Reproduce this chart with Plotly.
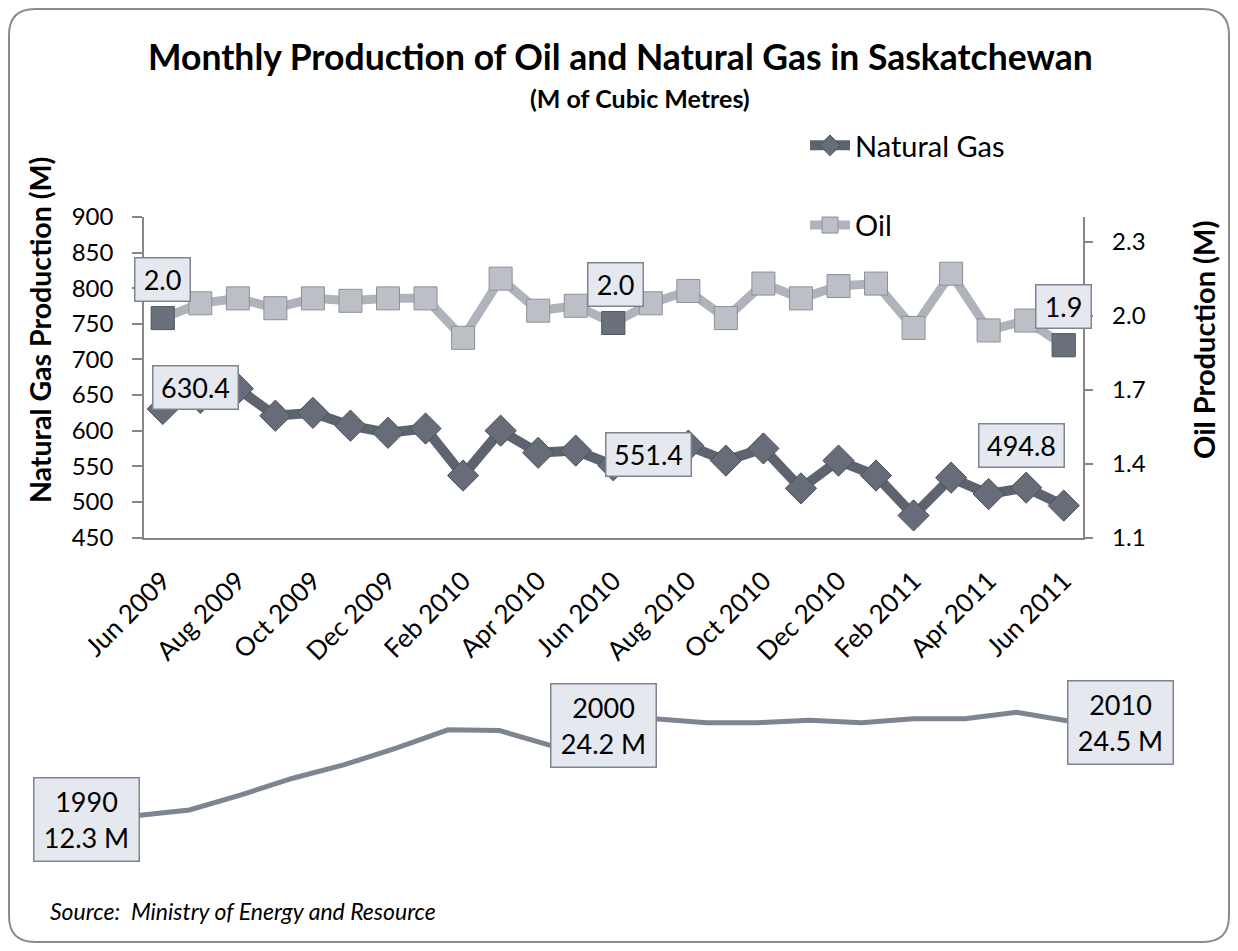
import plotly.graph_objects as go

# ---------------- data ----------------
months = ["Jun 2009", "Jul 2009", "Aug 2009", "Sep 2009", "Oct 2009", "Nov 2009", "Dec 2009",
          "Jan 2010", "Feb 2010", "Mar 2010", "Apr 2010", "May 2010", "Jun 2010", "Jul 2010",
          "Aug 2010", "Sep 2010", "Oct 2010", "Nov 2010", "Dec 2010", "Jan 2011", "Feb 2011",
          "Mar 2011", "Apr 2011", "May 2011", "Jun 2011"]
gas = [630.4, 646, 659, 621, 625, 607, 597, 603, 537, 600, 569, 572, 551.4, 572,
       579, 558, 575, 519, 558, 537, 481, 534, 511, 520, 494.8]
oil = [1.99, 2.05, 2.07, 2.03, 2.07, 2.06, 2.07, 2.07, 1.91, 2.15, 2.02, 2.04, 1.97, 2.05,
       2.10, 1.99, 2.13, 2.07, 2.12, 2.13, 1.95, 2.17, 1.94, 1.98, 1.88]
labeled = [0, 12, 24]

years = list(range(1990, 2011))
annual = [12.3, 12.8, 13.5, 15.4, 17.5, 19.2, 21.3, 23.6, 23.5, 21.6, 24.2,
          25.0, 24.5, 24.5, 24.8, 24.5, 25.0, 25.0, 25.8, 24.7, 24.5]
annual_labeled = [1990, 2000, 2010]

gas_ticks = list(range(450, 901, 50))
oil_ticks = [1.1, 1.4, 1.7, 2.0, 2.3]

# ---------------- geometry helpers ----------------
W, H = 1222, 935
OFF = 8
def fx(X):
    return (X - OFF) / W
def fy(Y):
    return 1 - (Y - OFF) / H

FONT = "Lato, 'Liberation Sans', Arial, sans-serif"
AXC = "#868686"
n = len(months)
xs = list(range(n))
bounds = [i - 0.5 for i in range(n + 1)]

fig = go.Figure()

fig.add_trace(go.Scatter(
    x=xs, y=gas, name="Natural Gas", mode="lines+markers", legendgroup="g",
    line=dict(color="#5d6470", width=10),
    marker=dict(symbol="diamond", size=24, color="#666d79", line=dict(color="#4b515b", width=1)),
    xaxis="x", yaxis="y"))
fig.add_trace(go.Scatter(
    x=xs, y=oil, name="Oil", mode="lines+markers", legendgroup="o",
    line=dict(color="#b0b4ba", width=9),
    marker=dict(symbol="square", size=23, color="#bcbfc6", line=dict(color="#8b9098", width=1)),
    xaxis="x", yaxis="y2"))
fig.add_trace(go.Scatter(
    x=[xs[i] for i in labeled], y=[oil[i] for i in labeled], mode="markers", showlegend=False,
    marker=dict(symbol="square", size=23, color="#6b717c", line=dict(color="#555b65", width=1)),
    xaxis="x", yaxis="y2"))
fig.add_trace(go.Scatter(
    x=years, y=annual, mode="lines", showlegend=False,
    line=dict(color="#7e8591", width=5), xaxis="x5", yaxis="y5"))

xdom = [fx(144), fx(1082.5)]
ydom = [fy(537.5), fy(217)]
rng = [-0.5, n - 0.5]

common_tick = dict(tickcolor=AXC, tickwidth=1.5)
lab_font = dict(family=FONT, size=24, color="black")

layout = dict(
    width=W, height=H, autosize=False,
    margin=dict(l=0, r=0, t=0, b=0, pad=0, autoexpand=False),
    paper_bgcolor="white", plot_bgcolor="rgba(0,0,0,0)",
    font=dict(family=FONT, color="black"),
    showlegend=True,
    legend=dict(x=fx(805), y=fy(120), xanchor="left", yanchor="top",
                font=dict(family=FONT, size=29, color="black"),
                tracegroupgap=39, bgcolor="rgba(0,0,0,0)", itemwidth=40),
    xaxis=dict(domain=xdom, range=rng, anchor="y", showgrid=False, zeroline=False,
               showline=True, linecolor=AXC, linewidth=1.5, automargin=False,
               tickmode="array", tickvals=xs[::2], ticktext=months[::2],
               ticks="", tickangle=-45, tickfont=dict(family=FONT, size=26, color="black"),
               ticklabelstandoff=16),
    xaxis3=dict(domain=xdom, range=rng, overlaying="x", anchor="y", showgrid=False,
                zeroline=False, showline=False, tickmode="array", tickvals=bounds,
                automargin=False,
                ticks="outside", ticklen=7, showticklabels=False, **common_tick),
    xaxis4=dict(domain=xdom, range=rng, overlaying="x", anchor="y", showgrid=False,
                zeroline=False, showline=False, tickmode="array", tickvals=bounds,
                automargin=False,
                ticks="inside", ticklen=8, showticklabels=False, **common_tick),
    yaxis=dict(domain=ydom, range=[450, 900], anchor="x", showgrid=False, zeroline=False,
               showline=True, linecolor=AXC, linewidth=1.5, automargin=False,
               tickmode="array", tickvals=gas_ticks, ticks="outside", ticklen=10,
               tickfont=lab_font, ticklabelstandoff=14, **common_tick),
    yaxis3=dict(domain=ydom, range=[450, 900], overlaying="y", anchor="x", showgrid=False,
                zeroline=False, showline=False, tickmode="array", tickvals=gas_ticks,
                automargin=False,
                ticks="inside", ticklen=9, showticklabels=False, **common_tick),
    yaxis2=dict(domain=ydom, range=[1.1, 2.4], overlaying="y", side="right", anchor="x",
                showgrid=False, zeroline=False, showline=True, linecolor=AXC, linewidth=1.5,
                automargin=False,
                tickmode="array", tickvals=oil_ticks, tickformat=".1f", ticks="outside",
                tickprefix="\u2009\u2009\u2009",
                ticklen=9, tickfont=lab_font, ticklabelstandoff=14, **common_tick),
    yaxis4=dict(domain=ydom, range=[1.1, 2.4], overlaying="y", side="right", anchor="x",
                showgrid=False, zeroline=False, showline=False, automargin=False,
                tickmode="array", tickvals=oil_ticks, ticks="inside", ticklen=9,
                showticklabels=False, **common_tick),
)

# bottom annual line: 1990 at x=86px, 2010 at x=1120px ; 12.3 at y=819.5, 7.94 px per unit
px_per_year = (1120 - 86) / (years[-1] - years[0])
x5_lo = years[0] - (86 - OFF) / px_per_year
x5_hi = x5_lo + W / px_per_year
ppu = 7.94
y_top_px, y_bot_px = 680, 860
y5_lo = annual[0] - (y_bot_px - 819.5) / ppu
y5_hi = annual[0] + (819.5 - y_top_px) / ppu
layout["xaxis5"] = dict(domain=[0, 1], range=[x5_lo, x5_hi], anchor="y5", visible=False,
                        automargin=False)
layout["yaxis5"] = dict(domain=[fy(y_bot_px), fy(y_top_px)], range=[y5_lo, y5_hi],
                        anchor="x5", visible=False, automargin=False)

fig.update_layout(**layout)

ann = []
box = dict(bgcolor="#e5e8ee", bordercolor="#7f8590", borderwidth=1.5, borderpad=2,
           font=dict(family=FONT, size=27, color="black"), showarrow=False)

# gas labels
gas_shift = {0: (33, 22), 12: (35, 11), 24: (-42, 60)}
for i in labeled:
    txt = f"{gas[i]:.1f}"
    dx, dy = gas_shift[i]
    ann.append(dict(x=xs[i], y=gas[i], xref="x", yref="y", text=txt, xshift=dx, yshift=dy,
                    width=80, height=38, **box))
# oil labels
oil_shift = {0: (0, 39), 12: (2, 39), 24: (0, 39)}
for i in labeled:
    txt = f"{oil[i]:.1f}"
    dx, dy = oil_shift[i]
    ann.append(dict(x=xs[i], y=oil[i], xref="x", yref="y2", text=txt, xshift=dx, yshift=dy,
                    width=50, height=38, **box))
# annual labels
for yr in annual_labeled:
    v = annual[years.index(yr)]
    ann.append(dict(x=yr, y=v, xref="x5", yref="y5", text=f"{yr}<br>{v:.1f} M",
                    width=100, height=78, **box))

# titles
ann.append(dict(x=fx(620), y=fy(57), xref="paper", yref="paper", showarrow=False,
                text="<b>Monthly Production of Oil and Natural Gas in Saskatchewan</b>",
                font=dict(family=FONT, size=35.5, color="black"), xanchor="center", yanchor="middle"))
ann.append(dict(x=fx(640), y=fy(98), xref="paper", yref="paper", showarrow=False,
                text="<b>(M of Cubic Metres)</b>",
                font=dict(family=FONT, size=25, color="black"), xanchor="center", yanchor="middle"))
ann.append(dict(x=fx(40), y=fy(330), xref="paper", yref="paper", showarrow=False,
                text="<b>Natural Gas Production (M)</b>", textangle=-90,
                font=dict(family=FONT, size=28.5, color="black"), xanchor="center", yanchor="middle"))
ann.append(dict(x=fx(1203), y=fy(340), xref="paper", yref="paper", showarrow=False,
                text="<b>Oil Production (M)</b>", textangle=-90,
                font=dict(family=FONT, size=29, color="black"), xanchor="center", yanchor="middle"))
ann.append(dict(x=fx(48), y=fy(911), xref="paper", yref="paper", showarrow=False,
                text="<i>Source:\u00a0\u00a0Ministry of Energy and Resource</i>",
                font=dict(family=FONT, size=23, color="black"), xanchor="left", yanchor="middle"))
fig.update_layout(annotations=ann)

# rounded outer border
r = 26
x0, x1 = 1.0 / W, 1 - 1.0 / W
y0, y1 = 1.0 / H, 1 - 1.0 / H
rx, ry = r / W, r / H
path = (f"M {x0+rx},{y1} L {x1-rx},{y1} Q {x1},{y1} {x1},{y1-ry} "
        f"L {x1},{y0+ry} Q {x1},{y0} {x1-rx},{y0} L {x0+rx},{y0} Q {x0},{y0} {x0},{y0+ry} "
        f"L {x0},{y1-ry} Q {x0},{y1} {x0+rx},{y1} Z")
fig.update_layout(shapes=[dict(type="path", path=path, xref="paper", yref="paper",
                               line=dict(color="#8c8c8c", width=2))])

fig.write_html("out.html")
